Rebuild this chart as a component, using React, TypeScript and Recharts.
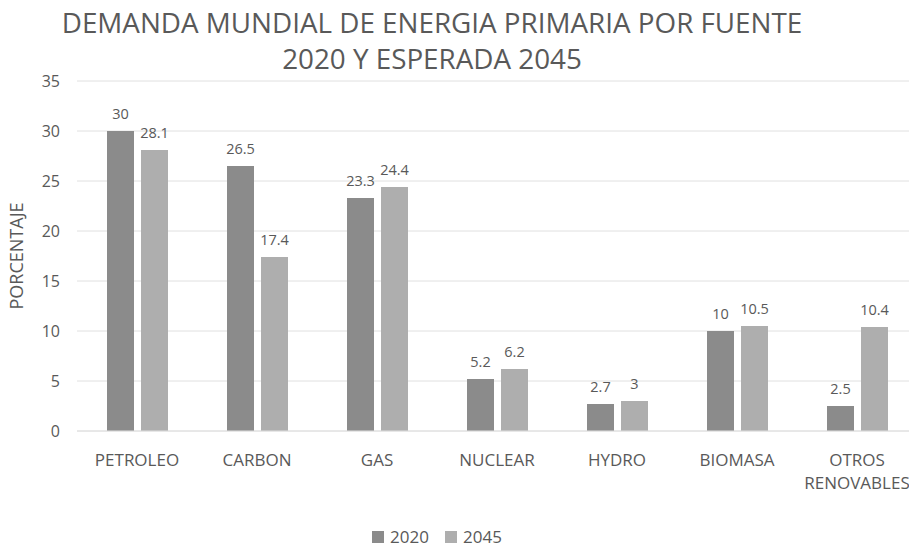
import React from 'react';
import { Bar, BarChart, CartesianGrid, LabelList, Legend, XAxis, YAxis } from 'recharts';

const fuentes = ['PETROLEO', 'CARBON', 'GAS', 'NUCLEAR', 'HYDRO', 'BIOMASA', 'OTROS RENOVABLES'];
const valores2020 = [30, 26.5, 23.3, 5.2, 2.7, 10, 2.5];
const valores2045 = [28.1, 17.4, 24.4, 6.2, 3, 10.5, 10.4];
const yTicks = [0, 5, 10, 15, 20, 25, 30, 35];

const data = fuentes.map((fuente, i) => ({
  fuente,
  y2020: valores2020[i],
  y2045: valores2045[i],
}));

const FONT = '"Open Sans", sans-serif';
const TEXT = '#595959';
const C2020 = '#8b8b8b';
const C2045 = '#aeaeae';

// etiquetas del eje x, partidas en varias lineas como en Excel
function FuenteTick({ x, y, payload }: any) {
  const lines = String(payload.value).split(' ');
  return (
    <text x={x} y={y} textAnchor="middle" fill={TEXT} fontSize={17} fontFamily={FONT}>
      {lines.map((line, i) => (
        <tspan key={line} x={x} dy={i === 0 ? 27 : 23}>
          {line}
        </tspan>
      ))}
    </text>
  );
}

function Leyenda() {
  const items = [
    { label: '2020', color: C2020 },
    { label: '2045', color: C2045 },
  ];
  return (
    <div style={{ display: 'flex', justifyContent: 'center', alignItems: 'center', gap: 16 }}>
      {items.map((it) => (
        <div key={it.label} style={{ display: 'flex', alignItems: 'center', gap: 6 }}>
          <span style={{ width: 12, height: 12, background: it.color, display: 'inline-block' }} />
          <span style={{ fontFamily: FONT, fontSize: 17, color: TEXT }}>{it.label}</span>
        </div>
      ))}
    </div>
  );
}

export default function App() {
  return (
    <div
      style={{
        position: 'fixed',
        left: 0,
        top: 0,
        width: 909,
        height: 549,
        overflow: 'hidden',
        background: '#fff',
      }}
    >
      <div
        style={{
          position: 'absolute',
          top: 4,
          left: 0,
          width: 864,
          textAlign: 'center',
          fontFamily: FONT,
          fontSize: 27.8,
          lineHeight: '36px',
          color: TEXT,
          zIndex: 2,
        }}
      >
        DEMANDA MUNDIAL DE ENERGIA PRIMARIA POR FUENTE
        <br />
        2020 Y ESPERADA 2045
      </div>
      <BarChart
        width={930}
        height={549}
        data={data}
        margin={{ top: 81, right: 13, bottom: 58, left: 17 }}
        barCategoryGap={30}
        barGap={7}
      >
        <CartesianGrid vertical={false} stroke="#e0e0e0" />
        <XAxis
          dataKey="fuente"
          height={60}
          axisLine={{ stroke: '#e0e0e0' }}
          tickLine={false}
          interval={0}
          tick={<FuenteTick />}
        />
        <YAxis
          width={60}
          domain={[0, 35]}
          ticks={yTicks}
          axisLine={false}
          tickLine={false}
          tickMargin={11}
          tick={{ fill: TEXT, fontSize: 16, fontFamily: FONT }}
          label={{
            value: 'PORCENTAJE',
            angle: -90,
            position: 'insideLeft',
            offset: 0,
            fill: TEXT,
            fontSize: 18,
            fontFamily: FONT,
            style: { textAnchor: 'middle' },
          }}
        />
        <Legend
          verticalAlign="middle"
          layout="horizontal"
          wrapperStyle={{ top: 525, left: 0, width: 874 }}
          content={<Leyenda />}
        />
        <Bar dataKey="y2020" name="2020" fill={C2020} isAnimationActive={false}>
          <LabelList dataKey="y2020" position="top" offset={12} fill={TEXT} fontSize={14.5} fontFamily={FONT} />
        </Bar>
        <Bar dataKey="y2045" name="2045" fill={C2045} isAnimationActive={false}>
          <LabelList dataKey="y2045" position="top" offset={12} fill={TEXT} fontSize={14.5} fontFamily={FONT} />
        </Bar>
      </BarChart>
    </div>
  );
}
